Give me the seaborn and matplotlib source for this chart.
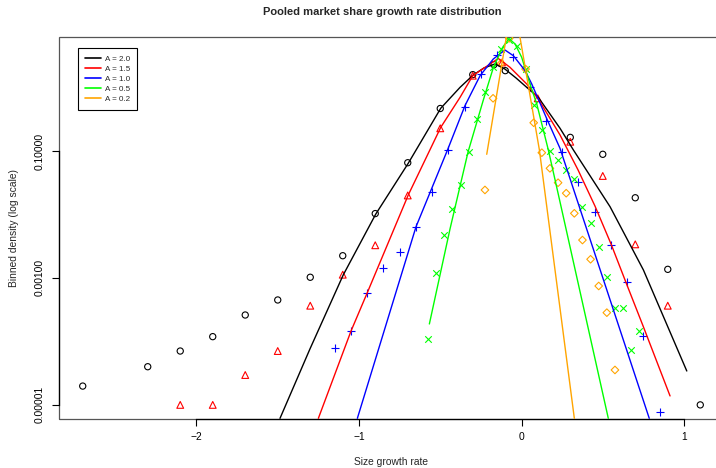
import pandas as pd
import seaborn as sns
import matplotlib.pyplot as plt
from matplotlib.lines import Line2D
from matplotlib.patches import Rectangle
from matplotlib.ticker import NullLocator

sns.set_style("white")
plt.rcParams['font.family'] = ['Liberation Sans', 'DejaVu Sans']

# binned densities (points)
a20_x = [-2.7, -2.3, -2.1, -1.9, -1.7, -1.5, -1.3, -1.1, -0.9, -0.7, -0.5, -0.3, -0.17, -0.1,
         0.3, 0.5, 0.7, 0.9, 1.1]
a20_y = [1.96e-5, 3.96e-5, 7.0e-5, 1.18e-4, 2.59e-4, 4.47e-4, 1.02e-3, 2.23e-3, 1.03e-2, 0.0653,
         0.468, 1.60, 2.30, 1.85, 0.164, 0.0887, 0.0183, 1.36e-3, 9.9e-6]

a15_x = [-2.1, -1.9, -1.7, -1.5, -1.3, -1.1, -0.9, -0.7, -0.5, -0.3, -0.12, 0.1, 0.3, 0.5, 0.7, 0.9]
a15_y = [9.9e-6, 9.9e-6, 2.93e-5, 7.0e-5, 3.63e-4, 1.12e-3, 3.26e-3, 0.0199, 0.228, 1.54, 2.49,
         0.678, 0.140, 0.0404, 3.37e-3, 3.63e-4]

a10_x = [-1.15, -1.05, -0.95, -0.85, -0.75, -0.65, -0.55, -0.45, -0.35, -0.25, -0.15, -0.05,
         0.05, 0.15, 0.25, 0.35, 0.45, 0.55, 0.65, 0.75, 0.85]
a10_y = [7.7e-5, 1.45e-4, 5.75e-4, 1.44e-3, 2.58e-3, 6.40e-3, 0.0228, 0.104, 0.489, 1.62, 3.27, 3.0,
         1.03, 0.301, 0.0975, 0.0330, 0.0108, 3.29e-3, 8.7e-4, 1.21e-4, 7.6e-6]

a05_x = [-0.575, -0.525, -0.475, -0.425, -0.375, -0.325, -0.275, -0.225, -0.175, -0.125, -0.075, -0.025,
         0.025, 0.075, 0.125, 0.175, 0.225, 0.275, 0.325, 0.375, 0.425, 0.475, 0.525, 0.575, 0.625,
         0.675, 0.725]
a05_y = [1.08e-4, 1.19e-3, 4.79e-3, 0.0120, 0.0296, 0.0975, 0.318, 0.861, 2.14, 4.06, 5.64, 4.53,
         1.96, 0.532, 0.214, 0.100, 0.0721, 0.0502, 0.0358, 0.0129, 7.4e-3, 3.10e-3, 1.02e-3, 3.30e-4,
         3.30e-4, 7.26e-5, 1.45e-4]

a02_x = [-0.225, -0.175, -0.125, -0.075, 0.025, 0.075, 0.125, 0.175, 0.225, 0.275, 0.325, 0.375,
         0.425, 0.475, 0.525, 0.575]
a02_y = [0.0243, 0.678, 2.42, 6.0, 1.96, 0.279, 0.094, 0.0533, 0.0316, 0.0216, 0.0104, 3.94e-3,
         1.96e-3, 7.43e-4, 2.82e-4, 3.52e-5]

# fitted curves
a20_fit_x = [-1.486, -1.302, -1.097, -0.897, -0.697, -0.497, -0.378, -0.297, -0.231, -0.163, -0.102,
             -0.034, 0.032, 0.103, 0.237, 0.319, 0.545, 0.750, 1.017]
a20_fit_y = [6.08e-6, 7.53e-5, 1.11e-3, 1.01e-2, 0.064, 0.472, 1.01, 1.58, 2.04, 2.36, 1.96, 1.42,
             1.01, 0.703, 0.228, 0.104, 0.0132, 1.33e-3, 3.39e-5]

a15_fit_x = [-1.250, -1.049, -0.949, -0.697, -0.497, -0.378, -0.300, -0.143, -0.071, 0.032, 0.103,
             0.237, 0.348, 0.452, 0.551, 0.649, 0.748, 0.914]
a15_fit_y = [6.08e-6, 1.45e-4, 5.82e-4, 0.0202, 0.236, 0.703, 1.54, 2.88, 2.09, 1.14, 0.661, 0.179,
             0.0502, 0.01355, 3.41e-3, 7.69e-4, 1.74e-4, 1.37e-5]

a10_fit_x = [-1.010, -0.649, -0.454, -0.348, -0.255, -0.174, -0.102, -0.050, 0.022, 0.063, 0.151,
             0.237, 0.786]
a10_fit_y = [6.08e-6, 6.40e-3, 0.106, 0.518, 1.54, 2.82, 3.92, 3.18, 1.85, 1.14, 0.343, 0.110, 6.08e-6]

a05_fit_x = [-0.567, -0.440, -0.329, -0.235, -0.174, -0.116, -0.077, -0.040, 0.001, 0.052, 0.094,
             0.165, 0.237, 0.534]
a05_fit_y = [1.87e-4, 5.89e-3, 0.0964, 0.637, 2.04, 4.32, 5.94, 4.88, 3.01, 1.14, 0.551, 0.104,
             0.0157, 6.08e-6]

a02_fit_x = [-0.214, -0.052, 0.110, 0.325]
a02_fit_y = [0.0887, 26.9, 0.104, 6.08e-6]

labels = ["A = 2.0", "A = 1.5", "A = 1.0", "A = 0.5", "A = 0.2"]
colors = ["black", "red", "blue", "#00FF00", "orange"]
markers = ["o", "^", "+", "x", "D"]
sizes = [20, 24, 32, 22, 15]

series = [
    (a20_x, a20_y, a20_fit_x, a20_fit_y),
    (a15_x, a15_y, a15_fit_x, a15_fit_y),
    (a10_x, a10_y, a10_fit_x, a10_fit_y),
    (a05_x, a05_y, a05_fit_x, a05_fit_y),
    (a02_x, a02_y, a02_fit_x, a02_fit_y),
]

fig = plt.figure(figsize=(7.16, 4.68), dpi=100)
ax = fig.add_axes([59 / 716, 1 - 419 / 468, 665 / 716, 382 / 468])

for (px, py, fx, fy), lab, col, mk, sz in zip(series, labels, colors, markers, sizes):
    pts = pd.DataFrame({"x": px, "y": py})
    fit = pd.DataFrame({"x": fx, "y": fy})
    if mk in ["+", "x"]:
        sns.scatterplot(data=pts, x="x", y="y", marker=mk, s=sz, color=col,
                        linewidth=0.8, ax=ax, legend=False, zorder=2)
    else:
        sns.scatterplot(data=pts, x="x", y="y", marker=mk, s=sz, facecolor="none",
                        edgecolor=col, linewidth=0.8, ax=ax, legend=False, zorder=2)
    sns.lineplot(data=fit, x="x", y="y", color=col, linewidth=1.0, estimator=None,
                 sort=False, ax=ax, legend=False, zorder=3)

ax.set_yscale("log")
ax.set_xlim(-2.846, 1.246)
ax.set_ylim(5.93e-6, 6.28)
ax.set_xticks([-2, -1, 0, 1])
ax.set_xticklabels(["\u22122", "\u22121", "0", "1"])
ax.set_yticks([1e-5, 1e-3, 1e-1])
ax.set_yticklabels(["0.00001", "0.00100", "0.10000"])
ax.yaxis.set_minor_locator(NullLocator())
ax.set_xlabel("")
ax.set_ylabel("")
ax.tick_params(axis="both", direction="out", length=5, width=0.8, color="black",
               labelsize=7.4, labelcolor="black", bottom=True, left=True)
ax.tick_params(axis="x", pad=4)
ax.tick_params(axis="y", pad=5, labelrotation=90)
for t in ax.get_yticklabels():
    t.set_va("center")

for s in ["top", "right"]:
    ax.spines[s].set_visible(False)
ax.spines["left"].set_color("black")
ax.spines["bottom"].set_color("black")
ax.spines["left"].set_linewidth(0.9)
ax.spines["bottom"].set_linewidth(0.9)
ax.spines["left"].set_bounds(1e-5, 1e-1)
ax.spines["bottom"].set_bounds(-2, 1)
ax.add_patch(Rectangle((0, 0), 1, 1, transform=ax.transAxes, fill=False,
                       edgecolor="#555555", linewidth=0.9, clip_on=False, zorder=0))

handles = [Line2D([], [], color=c, linewidth=1.2) for c in colors]
leg = ax.legend(handles, labels, loc="upper left", bbox_to_anchor=(0.029, 0.970),
                fontsize=5.8, frameon=True, fancybox=False, edgecolor="black", framealpha=1,
                borderaxespad=0, handlelength=2.0, handletextpad=0.5, labelspacing=0.3,
                borderpad=0.85)
leg.get_frame().set_linewidth(0.8)

fig.text(382 / 716, 1 - 12 / 468, "Pooled market share growth rate distribution",
         ha="center", va="center", fontsize=8.0, fontweight="bold")
fig.text(391.5 / 716, 1 - 462 / 468, "Size growth rate", ha="center", va="center", fontsize=7.4)
fig.text(14 / 716, 1 - 228 / 468, "Binned density (log scale)", ha="center", va="center",
         rotation=90, fontsize=7.4)

fig.savefig("out.png", dpi=100)
